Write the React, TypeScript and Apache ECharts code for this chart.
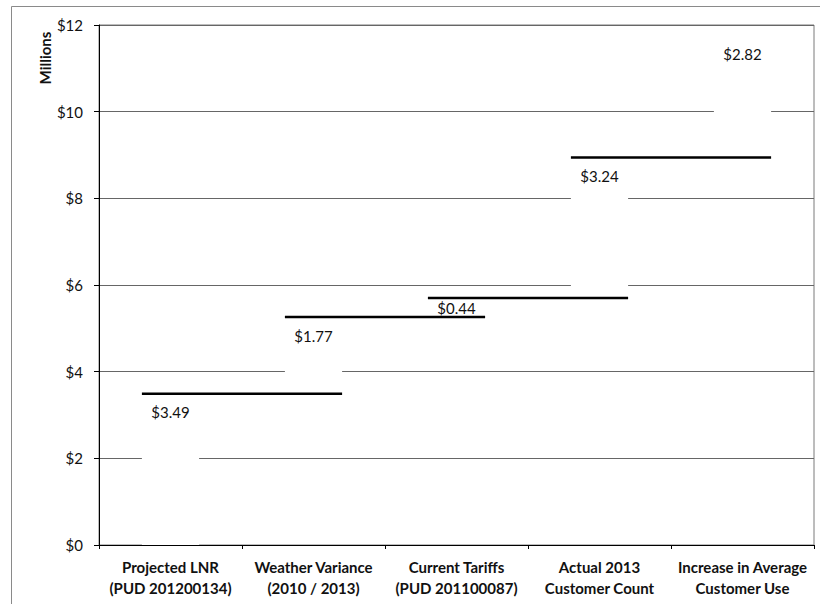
import React, { useEffect, useRef } from "react";
import * as echarts from "echarts";

const categories = [
  "Projected LNR\n(PUD 201200134)",
  "Weather Variance\n(2010 / 2013)",
  "Current Tariffs\n(PUD 201100087)",
  "Actual 2013\nCustomer Count",
  "Increase in Average\nCustomer Use",
];
const increments = [3.49, 1.77, 0.44, 3.24, 2.82];
const yMin = 0;
const yMax = 12;
const yStep = 2;

export default function App() {
  const ref = useRef<HTMLDivElement>(null);
  useEffect(() => {
    if (!ref.current) return;
    const chart = echarts.init(ref.current, null, { renderer: "svg" });
    const bases: number[] = [];
    const tops: number[] = [];
    let acc = 0;
    increments.forEach((v) => {
      bases.push(acc);
      acc = +(acc + v).toFixed(2);
      tops.push(acc);
    });
    const connectorData = tops.slice(0, tops.length - 1).map((t, i) => [i, t]);
    const font = "Lato, 'Open Sans', sans-serif";
    chart.setOption({
      animation: false,
      backgroundColor: "#ffffff",
      grid: {
        left: 99,
        right: 6,
        top: 25,
        bottom: 59,
        show: true,
        borderColor: "#7a7a7a",
        borderWidth: 1,
      },
      xAxis: {
        type: "category",
        data: categories,
        axisLine: { lineStyle: { color: "#000", width: 1 } },
        axisTick: { show: true, length: 4, lineStyle: { color: "#000" } },
        axisLabel: {
          color: "#111",
          fontFamily: font,
          fontWeight: "bold",
          fontSize: 15,
          lineHeight: 21,
          margin: 11,
          interval: 0,
        },
      },
      yAxis: {
        type: "value",
        min: yMin,
        max: yMax,
        interval: yStep,
        axisLine: { show: true, lineStyle: { color: "#000", width: 1 } },
        axisTick: { show: true, length: 5, lineStyle: { color: "#000" } },
        axisLabel: {
          color: "#111",
          fontFamily: font,
          fontSize: 15,
          margin: 16,
          formatter: (v: number) => "$" + v,
        },
        splitLine: { show: true, lineStyle: { color: "#666", width: 1 } },
      },
      graphic: [
        {
          type: "line",
          shape: { x1: 11.5, y1: 6.5, x2: 820, y2: 6.5 },
          style: { stroke: "#8a8a8a", lineWidth: 1 },
        },
        {
          type: "line",
          shape: { x1: 11.5, y1: 6.5, x2: 11.5, y2: 604 },
          style: { stroke: "#8a8a8a", lineWidth: 1 },
        },
        {
          type: "text",
          x: 45,
          y: 58,
          rotation: Math.PI / 2,
          style: {
            text: "Millions",
            fontFamily: font,
            fontWeight: "bold",
            fontSize: 15,
            fill: "#111",
            align: "center",
            verticalAlign: "middle",
          },
        },
      ],
      series: [
        {
          type: "bar",
          stack: "w",
          barWidth: "40%",
          data: bases,
          itemStyle: { color: "transparent" },
          silent: true,
        },
        {
          type: "bar",
          stack: "w",
          barWidth: "40%",
          data: increments.map((v, i) =>
            i === 2
              ? { value: v, label: { position: "inside", distance: 0 } }
              : v
          ),
          itemStyle: { color: "#ffffff" },
          label: {
            show: true,
            position: "insideTop",
            distance: 11,
            color: "#111",
            fontFamily: font,
            fontSize: 15,
            formatter: (p: any) => "$" + Number(p.value).toFixed(2),
          },
        },
        {
          type: "custom",
          z: 10,
          encode: { x: 0, y: 1 },
          data: connectorData,
          renderItem: (params: any, api: any) => {
            const idx = api.value(0);
            const val = api.value(1);
            const p = api.coord([idx, val]);
            const w = api.size([1, 0])[0];
            const half = w * 0.2;
            return {
              type: "line",
              shape: { x1: p[0] - half, y1: p[1], x2: p[0] + w + half, y2: p[1] },
              style: { stroke: "#000", lineWidth: 2.5 },
            };
          },
        },
      ],
    });
    return () => chart.dispose();
  }, []);
  return (
    <div
      ref={ref}
      style={{ position: "absolute", left: 0, top: 0, width: 820, height: 604 }}
    />
  );
}
